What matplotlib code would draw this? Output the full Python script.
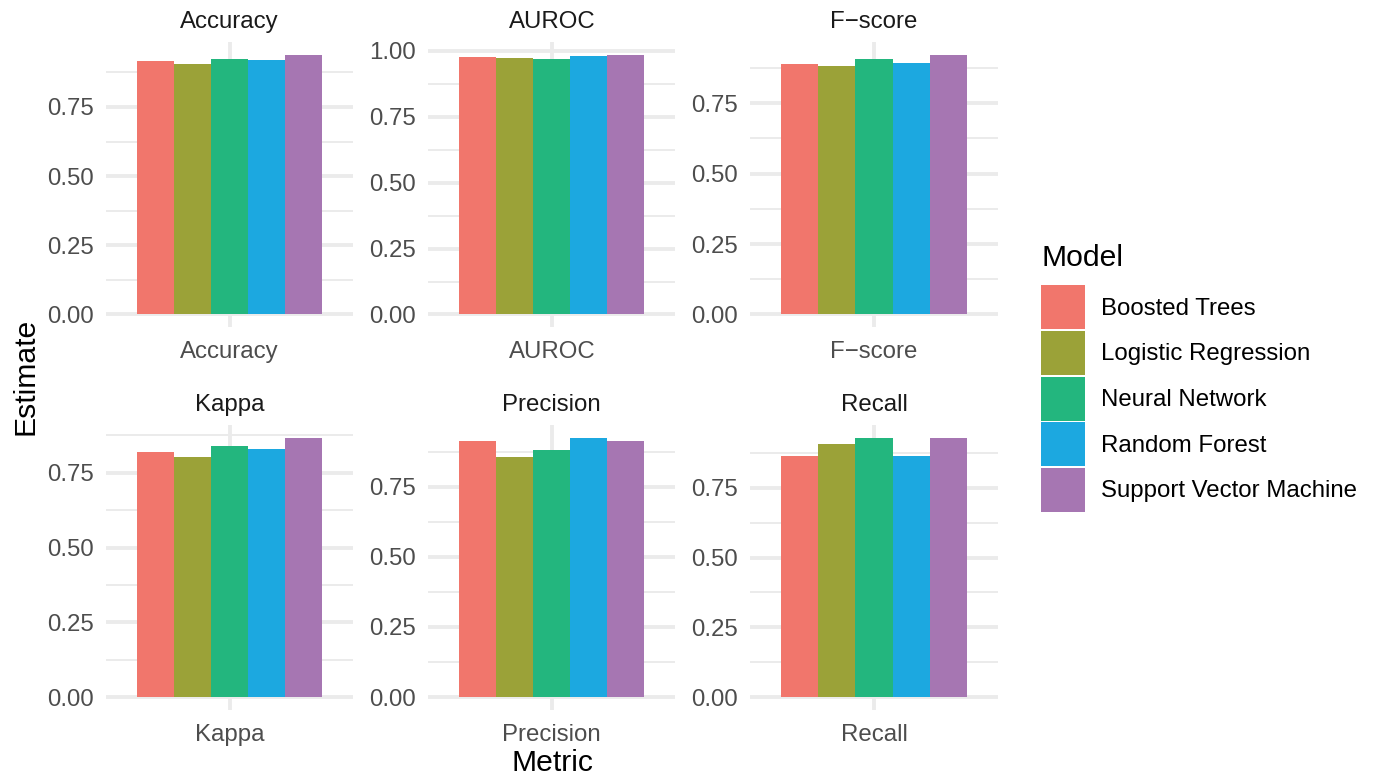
import matplotlib
matplotlib.use("Agg")
import matplotlib.pyplot as plt
from matplotlib.patches import Patch
from matplotlib.ticker import MultipleLocator
import numpy as np

plt.rcParams['font.family'] = ['Liberation Sans', 'DejaVu Sans']

# Data
metrics = ["Accuracy", "AUROC", "F\u2212score", "Kappa", "Precision", "Recall"]
models = ["Boosted Trees", "Logistic Regression", "Neural Network",
          "Random Forest", "Support Vector Machine"]
colors = ["#F1766C", "#9BA238", "#23B67E", "#1CA8E0", "#A676B2"]

accuracy = [0.916, 0.905, 0.923, 0.920, 0.938]
auroc = [0.977, 0.973, 0.970, 0.981, 0.985]
fscore = [0.889, 0.882, 0.907, 0.893, 0.921]
kappa = [0.818, 0.804, 0.841, 0.828, 0.868]
precision = [0.914, 0.857, 0.879, 0.925, 0.911]
recall = [0.862, 0.908, 0.930, 0.862, 0.930]
values = [accuracy, auroc, fscore, kappa, precision, recall]

fig, axes = plt.subplots(2, 3, figsize=(13.79, 7.83), dpi=100)
fig.subplots_adjust(left=0.0769, right=0.7234, top=0.9464, bottom=0.0932,
                    wspace=0.304, hspace=0.34)

tick_col = "#4D4D4D"
bw = 0.9 / len(models)
offsets = (np.arange(len(models)) - (len(models) - 1) / 2) * bw

for ax, name, vals in zip(axes.flat, metrics, values):
    ax.bar(offsets, vals, width=bw, color=colors, zorder=2, linewidth=0)
    top = max(vals)
    ax.set_ylim(-0.05 * top, top * 1.05)
    ax.set_xlim(-0.6, 0.6)
    ax.set_xticks([0])
    ax.set_xticklabels([name])
    ax.yaxis.set_major_locator(MultipleLocator(0.25))
    ax.yaxis.set_minor_locator(MultipleLocator(0.125))
    ax.yaxis.set_major_formatter(matplotlib.ticker.FormatStrFormatter("%.2f"))
    ax.grid(True, which="major", axis="both", color="#EBEBEB", linewidth=2.8, zorder=0)
    ax.grid(True, which="minor", axis="y", color="#EBEBEB", linewidth=1.4, zorder=0)
    ax.set_axisbelow(True)
    for s in ax.spines.values():
        s.set_visible(False)
    ax.tick_params(axis="both", which="both", length=0, labelsize=17.3,
                   labelcolor=tick_col)
    ax.tick_params(axis="x", pad=10)
    ax.tick_params(axis="y", pad=9)
    ax.set_title(name, fontsize=17.3, color="#1A1A1A", pad=10)

fig.text(552 / 1379, 1 - 763 / 783, "Metric", fontsize=21.7, ha="center", va="center")
fig.text(25 / 1379, 1 - 376 / 783, "Estimate", fontsize=21.7, ha="center", va="center",
         rotation=90)

handles = [Patch(facecolor=c, edgecolor="none") for c in colors]
leg = fig.legend(handles, models, loc="center left",
                 bbox_to_anchor=(1041 / 1379, 1 - 378 / 783),
                 frameon=False, fontsize=17.3, title="Model", title_fontsize=21.7,
                 handlelength=1.83, handleheight=2.44, labelspacing=0.07,
                 handletextpad=0.67, borderpad=0, borderaxespad=0, alignment="left")
# a bit more room between legend title and keys, like ggplot
leg._legend_box.sep = 9.7

fig.savefig("out.png", dpi=100, facecolor="white")
